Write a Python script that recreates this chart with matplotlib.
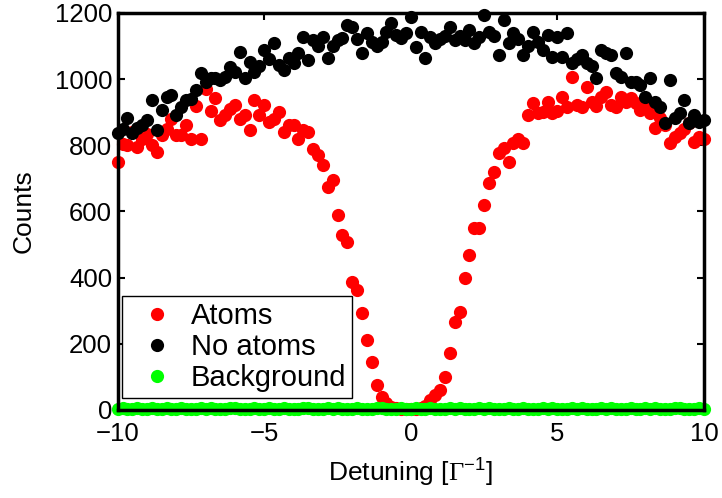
import matplotlib
matplotlib.use('Agg')
import matplotlib.pyplot as plt
import numpy as np

plt.rcParams['font.family'] = ['Liberation Sans', 'DejaVu Sans']
plt.rcParams['mathtext.fontset'] = 'custom'
plt.rcParams['mathtext.rm'] = 'Liberation Serif'
plt.rcParams['mathtext.sf'] = 'Liberation Sans'

# detuning grid, 121 points from -10 to 10
detuning = np.linspace(-10, 10, 121)

atoms = [750, 805, 800, 840, 795, 820, 835, 800, 780, 830,
         850, 880, 830, 830, 860, 820, 920, 820, 970, 905,
         942, 876, 891, 910, 921, 880, 891, 846, 937, 891,
         921, 870, 880, 900, 840, 860, 861, 820, 846, 840,
         790, 770, 740, 675, 695, 590, 530, 508, 387, 362,
         293, 211, 145, 75, 40, 22, 10, 6, 4, 3,
         3, 4, 6, 12, 30, 45, 60, 100, 172, 266,
         296, 399, 468, 550, 550, 620, 685, 720, 776, 791,
         750, 806, 820, 806, 891, 927, 897, 900, 930, 897,
         905, 946, 915, 1006, 921, 915, 976, 930, 920, 946,
         961, 921, 915, 946, 930, 942, 927, 906, 920, 897,
         852, 882, 860, 806, 825, 837, 850, 867, 810, 825,
         820]

no_atoms = [837, 850, 882, 837, 851, 860, 876, 937, 846, 906,
            946, 952, 891, 915, 937, 940, 967, 1018, 990, 1003,
            1003, 997, 1006, 1036, 1020, 1082, 1003, 1051, 1021, 1040,
            1088, 1060, 1108, 1042, 1027, 1063, 1050, 1079, 1127, 1057,
            1118, 1100, 1127, 1063, 1100, 1118, 1124, 1163, 1157, 1120,
            1079, 1139, 1112, 1100, 1112, 1142, 1169, 1133, 1124, 1140,
            1187, 1097, 1142, 1063, 1127, 1110, 1120, 1130, 1157, 1118,
            1130, 1118, 1148, 1110, 1127, 1193, 1142, 1130, 1073, 1178,
            1108, 1139, 1120, 1073, 1100, 1142, 1112, 1088, 1133, 1067,
            1127, 1067, 1139, 1048, 1060, 1073, 1048, 1040, 1003, 1088,
            1079, 1073, 1018, 1006, 1079, 991, 990, 982, 946, 1003,
            930, 915, 867, 997, 882, 897, 937, 867, 890, 870,
            875]

background = [3, 5, 2, 4, 6, 3, 2, 5, 4, 3,
              6, 2, 4, 5, 3, 2, 4, 6, 3, 5,
              2, 4, 3, 5, 6, 2, 3, 4, 5, 3,
              2, 6, 4, 3, 5, 2, 4, 3, 6, 5,
              3, 2, 4, 5, 3, 6, 2, 4, 3, 5,
              4, 2, 3, 6, 5, 3, 4, 2, 5, 3,
              4, 6, 2, 3, 5, 4, 3, 2, 6, 4,
              5, 3, 2, 4, 6, 3, 5, 2, 4, 3,
              6, 4, 2, 5, 3, 4, 2, 6, 3, 5,
              4, 3, 2, 5, 4, 6, 3, 2, 4, 5,
              3, 6, 2, 4, 3, 5, 2, 4, 6, 3,
              5, 2, 4, 3, 6, 5, 2, 3, 4, 5,
              3]

fig = plt.figure(figsize=(7.22, 4.98), dpi=100)
ax = fig.add_axes([0.163, 0.177, 0.812, 0.797])

ax.plot(detuning, atoms, 'o', color='#ff0000', markersize=9.5,
        markeredgewidth=0, label='Atoms', clip_on=False)
ax.plot(detuning, no_atoms, 'o', color='#000000', markersize=9.5,
        markeredgewidth=0, label='No atoms', clip_on=False)
ax.plot(detuning, background, 'o', color='#00ff00', markersize=9.5,
        markeredgewidth=0, label='Background', clip_on=False)

ax.set_xlim(-10, 10)
ax.set_ylim(0, 1200)
ax.set_xticks([-10, -5, 0, 5, 10])
ax.set_yticks([0, 200, 400, 600, 800, 1000, 1200])
ax.tick_params(direction='in', top=True, right=True, length=5, width=1.5,
               labelsize=18.5)
ax.tick_params(axis='x', pad=9)
ax.tick_params(axis='y', pad=4)
for s in ax.spines.values():
    s.set_linewidth(2.5)
    s.set_zorder(5)

ax.set_xlabel(r'Detuning [$\Gamma^{\mathsf{-1}}$]', fontsize=19, labelpad=6)
ax.set_ylabel('Counts', fontsize=19, labelpad=14)

leg = ax.legend(loc='lower left', bbox_to_anchor=(0.008, 0.03), borderaxespad=0,
                fontsize=21, frameon=True, fancybox=False, handletextpad=0.15,
                borderpad=0.2, labelspacing=0.1, handlelength=2.0)
leg.get_frame().set_edgecolor('black')
leg.get_frame().set_linewidth(1)
leg.get_frame().set_alpha(1)

fig.savefig('out.png', dpi=100)
